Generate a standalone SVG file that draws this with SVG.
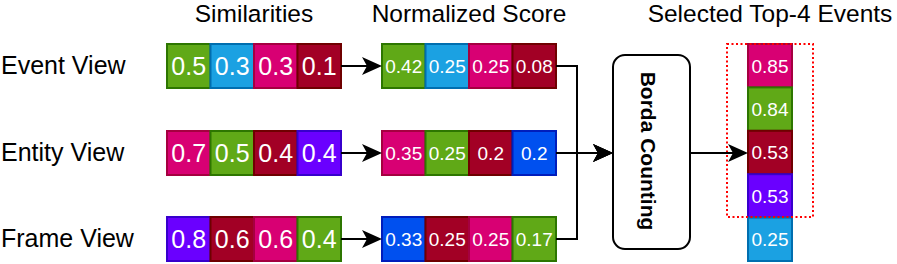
<svg xmlns="http://www.w3.org/2000/svg" width="897" height="264" viewBox="0 0 897 264">
<style>
.title{font-family:"Liberation Sans",Arial,sans-serif;font-size:24.5px;fill:#000;text-anchor:middle}
.lbl{font-family:"Liberation Sans",Arial,sans-serif;font-size:25px;fill:#000}
.big{font-family:"Liberation Sans",Arial,sans-serif;font-size:25px;fill:#fff;text-anchor:middle}
.sm{font-family:"Liberation Sans",Arial,sans-serif;font-size:19px;fill:#fff;text-anchor:middle}
.g{fill:#60a917;stroke:#2d7600;stroke-width:2}
.c{fill:#1ba1e2;stroke:#006eaf;stroke-width:2}
.p{fill:#d80073;stroke:#a50040;stroke-width:2}
.r{fill:#a20025;stroke:#6f0000;stroke-width:2}
.v{fill:#6a00ff;stroke:#3700cc;stroke-width:2}
.b{fill:#0050ef;stroke:#001dbc;stroke-width:2}
.edge{fill:none;stroke:#000;stroke-width:2;marker-end:url(#arr)}
</style>
<defs>
<marker id="arr" markerUnits="userSpaceOnUse" markerWidth="20" markerHeight="18" refX="10" refY="9" orient="auto" overflow="visible">
<path d="M0,0 L20,9 L0,18 L5,9 Z" fill="#000"/>
</marker>
</defs>

<text class="title" x="254" y="22">Similarities</text>
<text class="title" x="469" y="22">Normalized Score</text>
<text class="title" x="770" y="22">Selected Top-4 Events</text>

<g id="label-event"><text class="lbl" x="1" y="74">Event View</text></g>
<g id="label-entity"><text class="lbl" x="1" y="161">Entity View</text></g>
<g id="label-frame"><text class="lbl" x="1" y="247">Frame View</text></g>

<g id="sim-event">
<rect class="g" x="167" y="44" width="43.5" height="44"/><text class="big" x="188.75" y="75">0.5</text>
<rect class="c" x="210.5" y="44" width="43.5" height="44"/><text class="big" x="232.25" y="75">0.3</text>
<rect class="p" x="254" y="44" width="43.5" height="44"/><text class="big" x="275.75" y="75">0.3</text>
<rect class="r" x="297.5" y="44" width="43.5" height="44"/><text class="big" x="319.25" y="75">0.1</text>
</g>
<g id="sim-entity">
<rect class="p" x="167" y="131" width="43.5" height="44"/><text class="big" x="188.75" y="162">0.7</text>
<rect class="g" x="210.5" y="131" width="43.5" height="44"/><text class="big" x="232.25" y="162">0.5</text>
<rect class="r" x="254" y="131" width="43.5" height="44"/><text class="big" x="275.75" y="162">0.4</text>
<rect class="v" x="297.5" y="131" width="43.5" height="44"/><text class="big" x="319.25" y="162">0.4</text>
</g>
<g id="sim-frame">
<rect class="v" x="167" y="217" width="43.5" height="44"/><text class="big" x="188.75" y="248">0.8</text>
<rect class="r" x="210.5" y="217" width="43.5" height="44"/><text class="big" x="232.25" y="248">0.6</text>
<rect class="p" x="254" y="217" width="43.5" height="44"/><text class="big" x="275.75" y="248">0.6</text>
<rect class="g" x="297.5" y="217" width="43.5" height="44"/><text class="big" x="319.25" y="248">0.4</text>
</g>

<g id="norm-event">
<rect class="g" x="382" y="44" width="43.5" height="44"/><text class="sm" x="403.75" y="73">0.42</text>
<rect class="c" x="425.5" y="44" width="43.5" height="44"/><text class="sm" x="447.25" y="73">0.25</text>
<rect class="p" x="469" y="44" width="43.5" height="44"/><text class="sm" x="490.75" y="73">0.25</text>
<rect class="r" x="512.5" y="44" width="43.5" height="44"/><text class="sm" x="534.25" y="73">0.08</text>
</g>
<g id="norm-entity">
<rect class="p" x="382" y="131" width="43.5" height="44"/><text class="sm" x="403.75" y="160">0.35</text>
<rect class="g" x="425.5" y="131" width="43.5" height="44"/><text class="sm" x="447.25" y="160">0.25</text>
<rect class="r" x="469" y="131" width="43.5" height="44"/><text class="sm" x="490.75" y="160">0.2</text>
<rect class="b" x="512.5" y="131" width="43.5" height="44"/><text class="sm" x="534.25" y="160">0.2</text>
</g>
<g id="norm-frame">
<rect class="b" x="382" y="217" width="43.5" height="44"/><text class="sm" x="403.75" y="246">0.33</text>
<rect class="r" x="425.5" y="217" width="43.5" height="44"/><text class="sm" x="447.25" y="246">0.25</text>
<rect class="p" x="469" y="217" width="43.5" height="44"/><text class="sm" x="490.75" y="246">0.25</text>
<rect class="g" x="512.5" y="217" width="43.5" height="44"/><text class="sm" x="534.25" y="246">0.17</text>
</g>

<g id="borda">
<rect x="613" y="55" width="77" height="194" rx="12" ry="12" fill="#fff" stroke="#000" stroke-width="2"/>
<text x="641" y="151" transform="rotate(90 641 151)" style="font-family:'Liberation Sans',Arial,sans-serif;font-size:21px;font-weight:bold;text-anchor:middle;fill:#000">Borda Counting</text>
</g>

<g id="top4">
<rect class="p" x="748" y="44" width="44" height="43.4"/><text class="sm" x="770" y="72.5">0.85</text>
<rect class="g" x="748" y="87.4" width="44" height="43.4"/><text class="sm" x="770" y="115.9">0.84</text>
<rect class="r" x="748" y="130.8" width="44" height="43.4"/><text class="sm" x="770" y="159.3">0.53</text>
<rect class="v" x="748" y="174.2" width="44" height="43.4"/><text class="sm" x="770" y="202.7">0.53</text>
<rect class="c" x="748" y="217.6" width="44" height="43.4"/><text class="sm" x="770" y="246.1">0.25</text>
</g>
<g id="selection">
<rect x="727" y="44" width="86" height="173" fill="none" stroke="#ff0000" stroke-width="2" stroke-dasharray="2 2.5"/>
</g>

<g id="connectors">
<path class="edge" d="M341,66 H372"/>
<path class="edge" d="M341,153 H372"/>
<path class="edge" d="M341,239 H372"/>
<path class="edge" d="M556,66 H577 V153 H603"/>
<path class="edge" d="M556,153 H603"/>
<path class="edge" d="M556,239 H577 V153 H603"/>
<path class="edge" d="M690,153 H738"/>
</g>
</svg>
